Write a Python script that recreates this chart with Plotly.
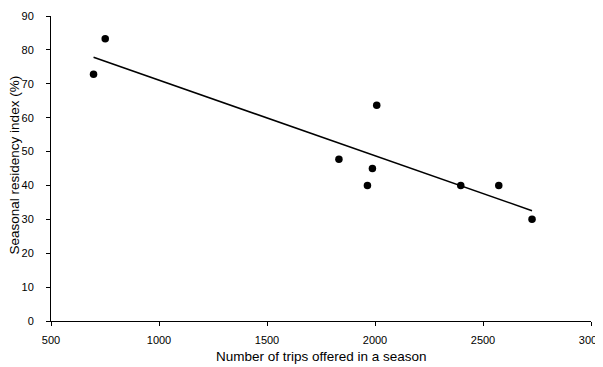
import numpy as np
import plotly.graph_objects as go

trips = [697, 751, 1833, 1965, 1988, 2008, 2397, 2573, 2727]
residency = [72.8, 83.3, 47.7, 40.0, 45.0, 63.7, 40.0, 40.0, 30.0]

x_ticks = [500, 1000, 1500, 2000, 2500, 3000]
y_ticks = [0, 10, 20, 30, 40, 50, 60, 70, 80, 90]

x_title = "Number of trips offered in a season"
y_title = "Seasonal residency index (%)"

slope, intercept = np.polyfit(trips, residency, 1)
fit_x = [min(trips), max(trips)]
fit_y = [slope * v + intercept for v in fit_x]

fig = go.Figure()
fig.add_trace(go.Scatter(x=fit_x, y=fit_y, mode="lines",
                         line=dict(color="black", width=1.5), showlegend=False))
fig.add_trace(go.Scatter(x=trips, y=residency, mode="markers",
                         marker=dict(color="black", size=7.5), showlegend=False))

family = "Liberation Sans, Arial, sans-serif"
font = dict(family=family, size=11, color="black")
# page body has an 8px margin, so the figure is sized 8px smaller
fig.update_layout(
    width=595, height=359,
    margin=dict(l=43, r=12, t=8, b=46),
    plot_bgcolor="white", paper_bgcolor="white",
    font=font,
    xaxis=dict(range=[500, 3000], tickvals=x_ticks, ticktext=[str(v) for v in x_ticks],
               showgrid=False, zeroline=False, showline=True, linecolor="black", linewidth=1,
               ticks="outside", ticklen=4, tickcolor="black", automargin=False,
               ticklabeloverflow="allow", ticklabelstandoff=5),
    yaxis=dict(range=[0, 90], tickvals=y_ticks, ticktext=[str(v) for v in y_ticks],
               showgrid=False, zeroline=False, showline=True, linecolor="black", linewidth=1,
               ticks="outside", ticklen=4, tickcolor="black", automargin=False,
               ticklabelstandoff=10),
    annotations=[
        dict(text=x_title, xref="paper", yref="paper", x=0.5, y=-0.118,
             xanchor="center", yanchor="middle", showarrow=False,
             font=dict(family=family, size=13.5, color="black")),
        dict(text=y_title, xref="paper", yref="paper", x=-0.0685, y=0.51,
             xanchor="center", yanchor="middle", showarrow=False, textangle=-90,
             font=dict(family=family, size=13.5, color="black")),
    ],
)

fig.write_html("out.html")
